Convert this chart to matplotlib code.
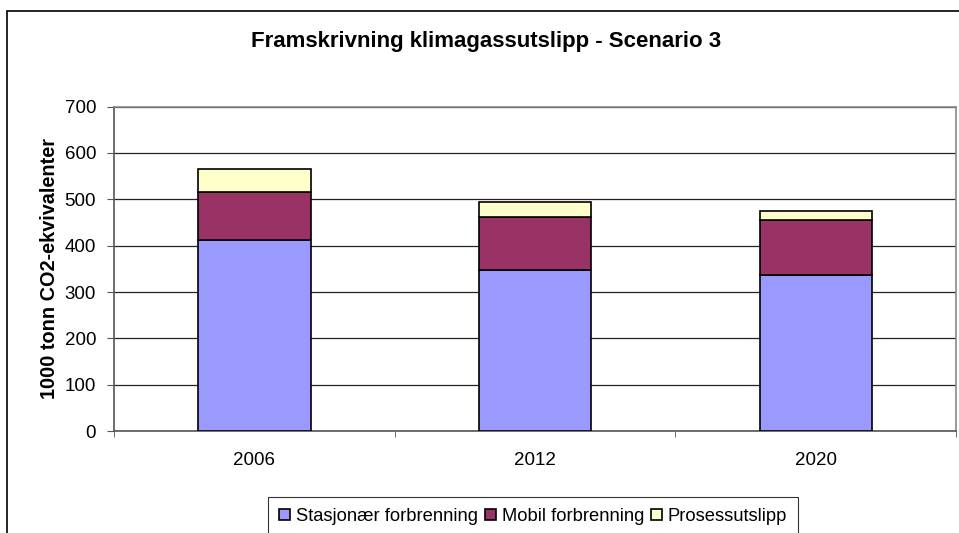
import matplotlib
matplotlib.use("Agg")
from matplotlib import pyplot as plt
from matplotlib.patches import Rectangle
import numpy as np

plt.rcParams['font.family'] = ['Liberation Sans', 'DejaVu Sans']

years = ["2006", "2012", "2020"]
stasjonaer = [413, 347, 337]
mobil = [103, 114, 118]
prosess = [49, 34, 19]
series_names = ["Stasjonær forbrenning", "Mobil forbrenning", "Prosessutslipp"]
colors = ["#9999FF", "#993366", "#FFFFCC"]

fig = plt.figure(figsize=(9.59, 5.33), dpi=100)
ax = fig.add_axes([0.119, 0.191, 0.878, 0.609])

x = np.arange(len(years))
bottom = np.zeros(len(years))
for vals, name, col in zip([stasjonaer, mobil, prosess], series_names, colors):
    ax.bar(x, vals, width=0.4, bottom=bottom, color=col, edgecolor="black",
           linewidth=1.2, label=name, zorder=3)
    bottom += np.array(vals)

ax.set_xlim(-0.5, 2.5)
ax.set_ylim(0, 700)
ax.set_yticks(range(0, 701, 100))
ax.set_xticks(x)
ax.set_xticklabels(years)
ax.set_xticks([-0.5, 0.5, 1.5, 2.5], minor=True)
ax.tick_params(axis="x", which="major", length=0, pad=15, labelsize=13.5)
ax.tick_params(axis="x", which="minor", length=4, direction="out", color="#555555")
ax.tick_params(axis="y", length=5, direction="out", color="#555555", labelsize=13.5, pad=8)
ax.yaxis.grid(True, color="#222222", linewidth=0.9, zorder=0)
for s in ax.spines.values():
    s.set_color("#888888")
    s.set_linewidth(1.2)
ax.spines["left"].set_color("#555555")
ax.spines["bottom"].set_color("#555555")

ax.set_ylabel("1000 tonn CO2-ekvivalenter", fontsize=14.3, fontweight="bold", labelpad=4)
fig.text(0.507, 0.922, "Framskrivning klimagassutslipp - Scenario 3", ha="center",
         va="center", fontsize=16, fontweight="bold")

fig.patches.append(Rectangle((7 / 959, -0.1), 1.2, 1.1 - 11 / 533, transform=fig.transFigure,
                             fill=False, edgecolor="black", linewidth=1.2))

leg = fig.legend(loc="upper center", bbox_to_anchor=(0.556, 0.0675), ncol=3,
                 fontsize=13.2, frameon=True, fancybox=False, edgecolor="black",
                 handlelength=0.6, handleheight=0.6, handletextpad=0.3,
                 columnspacing=0.4, borderpad=0.6, borderaxespad=0)
leg.get_frame().set_linewidth(0.8)

fig.savefig("out.png", dpi=100)
